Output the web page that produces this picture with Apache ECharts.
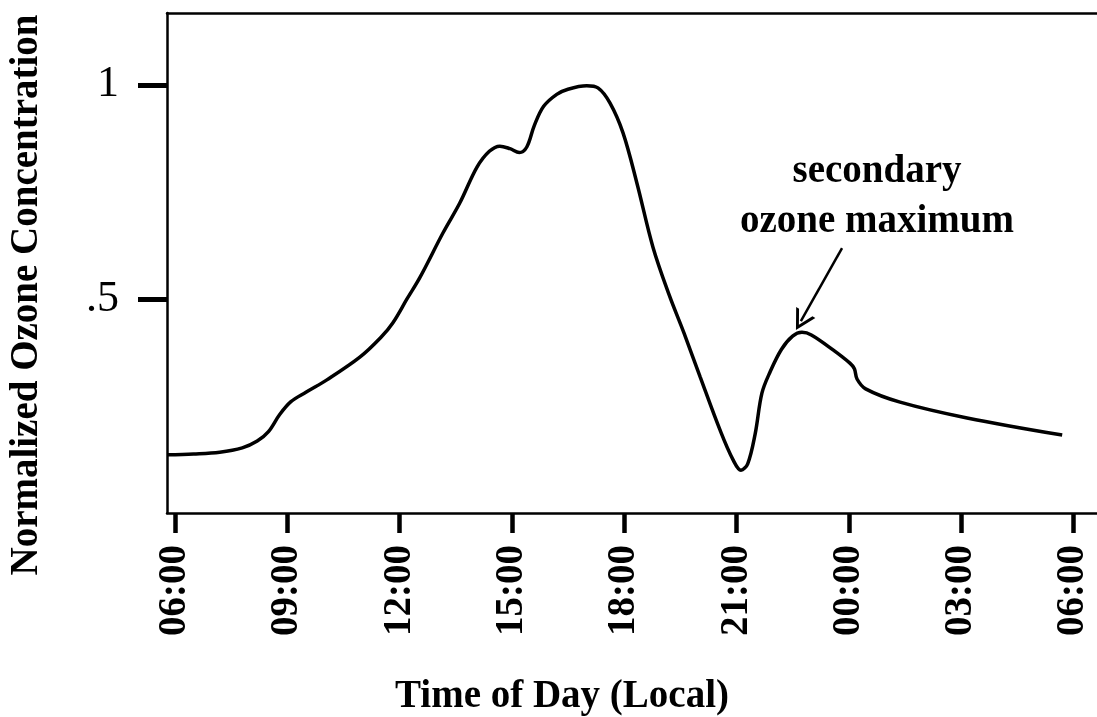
<!DOCTYPE html>
<html>
<head>
<meta charset="utf-8">
<script src="https://cdn.jsdelivr.net/npm/echarts@6/dist/echarts.min.js"></script>
<style>
  html, body { margin: 0; padding: 0; background: #fff; }
  #chart { width: 1097px; height: 717px; }
</style>
</head>
<body>
<div id="chart"></div>
<script>
// hours after 06:00 local
const hours = [
  -0.21, 0.5, 1.2, 1.8, 2.2, 2.5, 2.8, 3.1, 3.5, 4.06, 4.94, 5.5, 5.82, 6.2, 6.55,
  7.16, 7.61, 8.07, 8.4, 8.68, 8.95, 9.2, 9.4, 9.6, 9.85, 10.2, 10.5, 11.0, 11.3,
  11.62, 11.97, 12.34, 12.77, 13.2, 13.6, 14.03, 14.56, 14.91, 15.12, 15.3, 15.5,
  15.68, 15.9, 16.2, 16.5, 16.75, 17.0, 17.58, 18.03, 18.15, 18.22, 18.45, 19.37,
  21.16, 23.7
]
const ozone = [
  0.136, 0.138, 0.142, 0.152, 0.168, 0.19, 0.23, 0.26, 0.282, 0.311, 0.364, 0.41, 0.444, 0.5, 0.551,
  0.654, 0.724, 0.808, 0.845, 0.857, 0.851, 0.842, 0.855, 0.905, 0.95, 0.978, 0.99, 0.998, 0.993,
  0.958, 0.888, 0.771, 0.621, 0.51, 0.42, 0.318, 0.194, 0.124, 0.1, 0.115, 0.185,
  0.28, 0.33, 0.382, 0.413, 0.422, 0.416, 0.381, 0.35, 0.337, 0.313, 0.29, 0.259,
  0.222, 0.182
]
const xTicks = [0, 3, 6, 9, 12, 15, 18, 21, 24]
const yTicks = [0.5, 1]
const yTickLabels = { 0.5: '.5', 1: '1' }
// annotation arrow (tail -> tip), in data units
const arrowTail = [17.82, 0.619]
const arrowTip = [16.72, 0.448]

const serif = '"Liberation Serif", "DejaVu Serif", serif'
const fmtHour = h => String((6 + h) % 24).padStart(2, '0') + ':00'

const chart = echarts.init(document.getElementById('chart'))
chart.setOption({
  animation: false,
  backgroundColor: '#fff',
  grid: { left: 167, top: 13, right: 0, bottom: 204, containLabel: false, outerBoundsMode: 'none' },
  xAxis: [{
    type: 'value', min: -0.21, max: 24.63,
    splitLine: { show: false },
    axisLine: { show: true, onZero: false, lineStyle: { color: '#000', width: 2.5 } },
    axisTick: { show: true, customValues: xTicks, length: 20, lineStyle: { color: '#000', width: 4.5 } },
    axisLabel: {
      customValues: xTicks, rotate: 90, margin: 32, formatter: fmtHour,
      color: '#000', fontFamily: serif, fontWeight: 'bold', fontSize: 39
    }
  }, {
    type: 'value', position: 'top', min: -0.21, max: 24.63,
    splitLine: { show: false },
    axisLine: { show: true, onZero: false, lineStyle: { color: '#000', width: 2.5 } },
    axisTick: { show: false }, axisLabel: { show: false }
  }],
  yAxis: {
    type: 'value', min: 0, max: 1.168,
    splitLine: { show: false },
    axisLine: { show: true, onZero: false, lineStyle: { color: '#000', width: 2.5 } },
    axisTick: { show: true, customValues: yTicks, length: 29, lineStyle: { color: '#000', width: 5 } },
    axisLabel: {
      customValues: yTicks, margin: 48, formatter: v => yTickLabels[v] ?? '',
      color: '#000', fontFamily: serif, fontSize: 44
    }
  },
  series: [{
    type: 'line',
    data: hours.map((h, i) => [h, ozone[i]]),
    smooth: 0.35,
    showSymbol: false,
    lineStyle: { color: '#000', width: 3.5 },
    markLine: {
      silent: true, animation: false,
      symbol: ['none', 'path://M10,0 L20,20 L17,20 L10,6 L3,20 L0,20 Z'],
      symbolSize: [22, 20],
      label: { show: false },
      lineStyle: { color: '#000', width: 2.5, type: 'solid' },
      data: [[{ coord: arrowTail }, { coord: arrowTip }]]
    }
  }],
  graphic: [
    {
      type: 'text', x: 27, y: 295, rotation: Math.PI / 2,
      style: {
        text: 'Normalized Ozone Concentration', fill: '#000',
        font: 'bold 39px ' + serif, align: 'center', verticalAlign: 'middle'
      }
    },
    {
      type: 'text', x: 562, y: 697,
      style: {
        text: 'Time of Day (Local)', fill: '#000',
        font: 'bold 39px ' + serif, align: 'center', verticalAlign: 'middle'
      }
    },
    {
      type: 'text', x: 877, y: 197,
      style: {
        text: 'secondary\nozone maximum', fill: '#000', lineHeight: 50,
        font: 'bold 39px ' + serif, align: 'center', verticalAlign: 'middle'
      }
    }
  ]
})
</script>
</body>
</html>
